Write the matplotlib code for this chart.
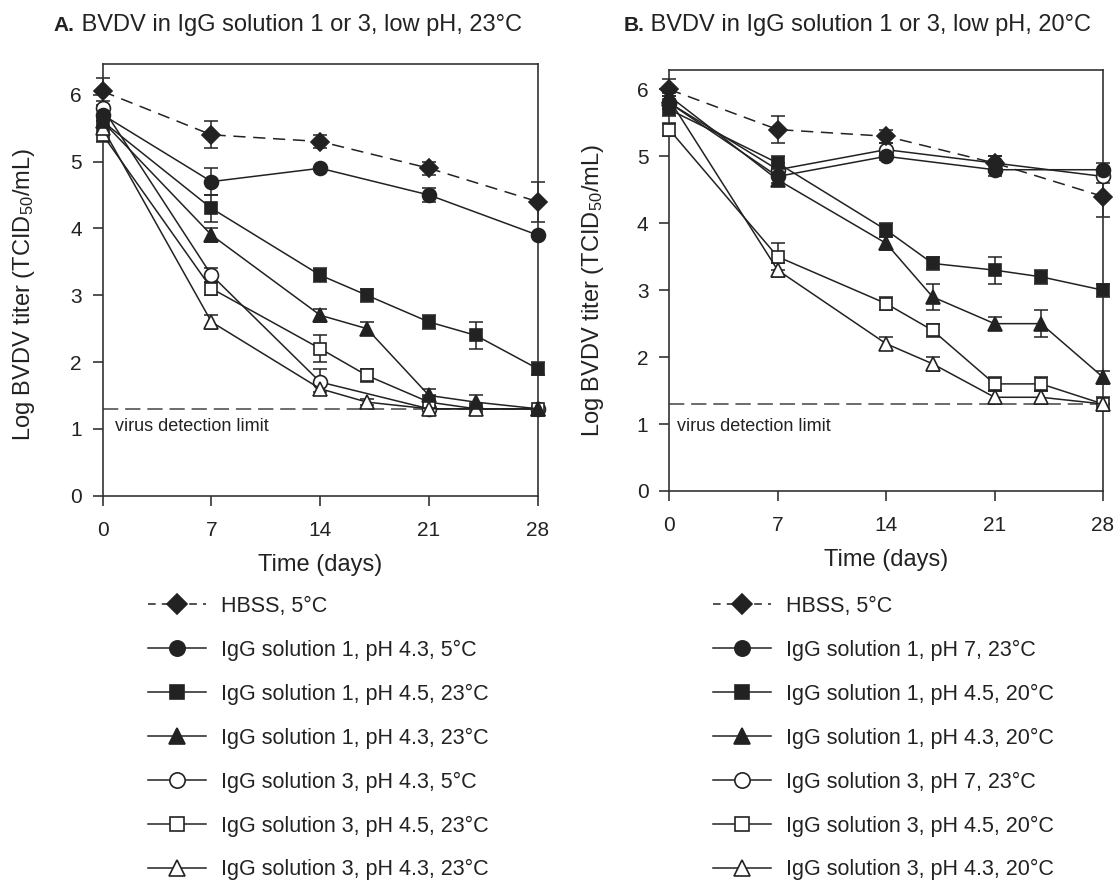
"""
BVDV titer in IgG solutions, two panels
"""

import matplotlib
matplotlib.use("Agg")
import matplotlib.pyplot as plt
from matplotlib.lines import Line2D

plt.rcParams["font.family"] = ["Liberation Sans", "DejaVu Sans"]
plt.rcParams["mathtext.fontset"] = "custom"
plt.rcParams["mathtext.rm"] = "Liberation Sans"
plt.rcParams["mathtext.it"] = "Liberation Sans:italic"

# time points (days)
days_5 = [0, 7, 14, 21, 28]
days_7 = [0, 7, 14, 17, 21, 24, 28]
detection_limit = 1.3

# panel A values
hbss_a = [6.05, 5.4, 5.3, 4.9, 4.4]
hbss_a_err = [0.2, 0.2, 0.1, 0.1, 0.3]
igg1_43_5c_a = [5.7, 4.7, 4.9, 4.5, 3.9]
igg1_43_5c_a_err = [0.1, 0.2, 0.0, 0.1, 0.0]
igg1_45_23c_a = [5.6, 4.3, 3.3, 3.0, 2.6, 2.4, 1.9]
igg1_45_23c_a_err = [0.1, 0.2, 0.1, 0.1, 0.1, 0.2, 0.1]
igg1_43_23c_a = [5.6, 3.9, 2.7, 2.5, 1.5, 1.4, 1.3]
igg1_43_23c_a_err = [0.1, 0.1, 0.1, 0.1, 0.1, 0.1, 0.0]
igg3_43_5c_a = [5.8, 3.3, 1.7, 1.3, 1.3]
igg3_43_5c_a_err = [0.1, 0.1, 0.2, 0.0, 0.0]
igg3_45_23c_a = [5.4, 3.1, 2.2, 1.8, 1.4, 1.3, 1.3]
igg3_45_23c_a_err = [0.1, 0.1, 0.2, 0.1, 0.1, 0.0, 0.0]
igg3_43_23c_a = [5.5, 2.6, 1.6, 1.4, 1.3, 1.3, 1.3]
igg3_43_23c_a_err = [0.1, 0.1, 0.05, 0.05, 0.0, 0.0, 0.0]

# panel B values
hbss_b = [6.0, 5.4, 5.3, 4.9, 4.4]
hbss_b_err = [0.15, 0.2, 0.1, 0.1, 0.3]
igg1_7_23c_b = [5.8, 4.7, 5.0, 4.8, 4.8]
igg1_7_23c_b_err = [0.1, 0.1, 0.05, 0.1, 0.1]
igg1_45_20c_b = [5.7, 4.9, 3.9, 3.4, 3.3, 3.2, 3.0]
igg1_45_20c_b_err = [0.1, 0.1, 0.1, 0.1, 0.2, 0.1, 0.1]
igg1_43_20c_b = [5.9, 4.65, 3.7, 2.9, 2.5, 2.5, 1.7]
igg1_43_20c_b_err = [0.1, 0.1, 0.1, 0.2, 0.1, 0.2, 0.1]
igg3_7_23c_b = [5.8, 4.8, 5.1, 4.9, 4.7]
igg3_7_23c_b_err = [0.1, 0.1, 0.1, 0.1, 0.1]
igg3_45_20c_b = [5.4, 3.5, 2.8, 2.4, 1.6, 1.6, 1.3]
igg3_45_20c_b_err = [0.1, 0.2, 0.1, 0.1, 0.1, 0.1, 0.0]
igg3_43_20c_b = [5.85, 3.3, 2.2, 1.9, 1.4, 1.4, 1.3]
igg3_43_20c_b_err = [0.1, 0.1, 0.1, 0.1, 0.1, 0.1, 0.1]

labels_a = ["HBSS, 5°C",
            "IgG solution 1, pH 4.3, 5°C",
            "IgG solution 1, pH 4.5, 23°C",
            "IgG solution 1, pH 4.3, 23°C",
            "IgG solution 3, pH 4.3, 5°C",
            "IgG solution 3, pH 4.5, 23°C",
            "IgG solution 3, pH 4.3, 23°C"]
labels_b = ["HBSS, 5°C",
            "IgG solution 1, pH 7, 23°C",
            "IgG solution 1, pH 4.5, 20°C",
            "IgG solution 1, pH 4.3, 20°C",
            "IgG solution 3, pH 7, 23°C",
            "IgG solution 3, pH 4.5, 20°C",
            "IgG solution 3, pH 4.3, 20°C"]

INK = "#222222"
# marker, filled, dashed
styles = [("D", True, True), ("o", True, False), ("s", True, False),
          ("^", True, False), ("o", False, False), ("s", False, False),
          ("^", False, False)]
msizes = {"D": 9, "o": 10, "s": 9, "^": 10}


def draw_panel(ax, series, ymax, note_xy, ylab_xy):
    for (x, y, err), (mk, filled, dashed) in zip(series, styles):
        ls = (0, (8, 5)) if dashed else "-"
        ax.errorbar(x, y, yerr=err, fmt="none", ecolor=INK, elinewidth=1.1,
                    capsize=5, capthick=1.1, clip_on=False, zorder=2)
        ax.plot(x, y, color=INK, lw=1.1, linestyle=ls, marker=mk,
                markersize=msizes[mk], markerfacecolor=INK if filled else "white",
                markeredgecolor=INK, markeredgewidth=1.2, clip_on=False,
                zorder=4 if filled else 3)
    ax.axhline(detection_limit, color="#444444", lw=1.1,
               linestyle=(0, (10, 4.5)), zorder=1)
    ax.text(note_xy[0], note_xy[1], "virus detection limit", fontsize=13,
            va="center", ha="left", color=INK)
    ax.set_xlim(0, 28)
    ax.set_ylim(0, ymax)
    ax.set_xticks([0, 7, 14, 21, 28])
    ax.set_yticks([0, 1, 2, 3, 4, 5, 6])
    ax.tick_params(direction="out", length=7, width=1.1, labelsize=15,
                   colors=INK, pad=8)
    ax.tick_params(axis="x", pad=11)
    for sp in ax.spines.values():
        sp.set_linewidth(1.2)
        sp.set_color("#333333")
    ax.set_xlabel("Time (days)", fontsize=17, labelpad=10, color=INK)
    ax.set_ylabel("Log BVDV titer (TCID$_{50}$/mL)", fontsize=17, color=INK)
    ax.yaxis.set_label_coords(*ylab_xy)


def legend_handles():
    handles = []
    for mk, filled, dashed in styles:
        handles.append(Line2D([], [], color=INK, lw=1.1,
                              linestyle=(0, (5, 4)) if dashed else "-",
                              marker=mk, markersize=msizes[mk] + 1,
                              markerfacecolor=INK if filled else "white",
                              markeredgecolor=INK, markeredgewidth=1.2))
    return handles


fig = plt.figure(figsize=(11.19, 8.84), dpi=100)
ax_a = fig.add_axes([0.0918, 0.4393, 0.3887, 0.4883])
ax_b = fig.add_axes([0.5981, 0.4446, 0.3876, 0.4762])

series_a = [(days_5, hbss_a, hbss_a_err),
            (days_5, igg1_43_5c_a, igg1_43_5c_a_err),
            (days_7, igg1_45_23c_a, igg1_45_23c_a_err),
            (days_7, igg1_43_23c_a, igg1_43_23c_a_err),
            (days_5, igg3_43_5c_a, igg3_43_5c_a_err),
            (days_7, igg3_45_23c_a, igg3_45_23c_a_err),
            (days_7, igg3_43_23c_a, igg3_43_23c_a_err)]
series_b = [(days_5, hbss_b, hbss_b_err),
            (days_5, igg1_7_23c_b, igg1_7_23c_b_err),
            (days_7, igg1_45_20c_b, igg1_45_20c_b_err),
            (days_7, igg1_43_20c_b, igg1_43_20c_b_err),
            (days_5, igg3_7_23c_b, igg3_7_23c_b_err),
            (days_7, igg3_45_20c_b, igg3_45_20c_b_err),
            (days_7, igg3_43_20c_b, igg3_43_20c_b_err)]

draw_panel(ax_a, series_a, 6.46, (0.79, 1.03), (-0.151, 0.465))
draw_panel(ax_b, series_b, 6.29, (0.48, 0.97), (-0.146, 0.477))

# titles: bold panel letter then plain text
for xpos, letter, rest in [(0.048, "A.", " BVDV in IgG solution 1 or 3, low pH, 23°C"),
                           (0.557, "B.", " BVDV in IgG solution 1 or 3, low pH, 20°C")]:
    t1 = fig.text(xpos, 0.965, letter, fontsize=15, fontweight="bold",
                  va="baseline", ha="left", color=INK)
    fig.canvas.draw()
    bb = t1.get_window_extent().transformed(fig.transFigure.inverted())
    fig.text(bb.x1, 0.965, rest, fontsize=17, va="baseline", ha="left",
             color=INK)

for xpos, labels in [(0.1323, labels_a), (0.637, labels_b)]:
    fig.legend(legend_handles(), labels, loc="upper left",
               bbox_to_anchor=(xpos, 0.326), frameon=False, fontsize=15.5,
               handlelength=2.7, handletextpad=0.7, labelspacing=1.06,
               borderpad=0, borderaxespad=0, labelcolor=INK)

fig.savefig("out.png", dpi=100)
